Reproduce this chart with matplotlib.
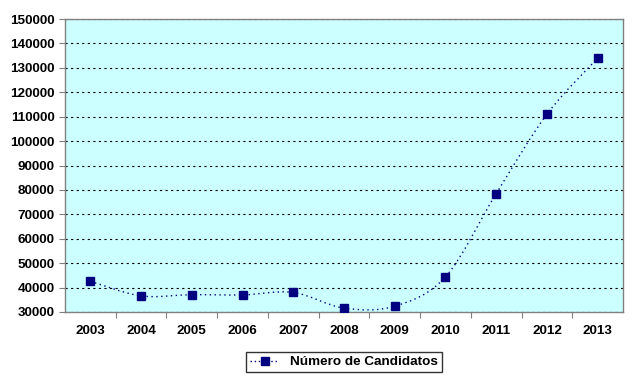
import matplotlib
matplotlib.use('Agg')
import matplotlib.pyplot as plt
from matplotlib.path import Path
from matplotlib.patches import PathPatch
from matplotlib.lines import Line2D

plt.rcParams['font.family'] = ['Liberation Sans', 'DejaVu Sans']

years = ['2003', '2004', '2005', '2006', '2007', '2008', '2009', '2010', '2011', '2012', '2013']
candidatos = [42600, 36600, 37100, 37000, 38000, 31600, 32400, 44400, 78500, 111000, 134000]
series_label = 'Número de Candidatos'

navy = '#000080'

fig = plt.figure(figsize=(6.4, 3.84), dpi=100)
ax = fig.add_axes([0.1016, 0.1875, 0.8719, 0.763])
ax.set_facecolor('#CCFFFF')

xs = list(range(len(years)))

# smoothed line (Catmull-Rom -> cubic bezier), like Excel's smoothed line
verts = [(xs[0], candidatos[0])]
codes = [Path.MOVETO]
n = len(xs)
for i in range(n - 1):
    p0 = (xs[max(i - 1, 0)], candidatos[max(i - 1, 0)])
    p1 = (xs[i], candidatos[i])
    p2 = (xs[i + 1], candidatos[i + 1])
    p3 = (xs[min(i + 2, n - 1)], candidatos[min(i + 2, n - 1)])
    c1 = (p1[0] + (p2[0] - p0[0]) / 6, p1[1] + (p2[1] - p0[1]) / 6)
    c2 = (p2[0] - (p3[0] - p1[0]) / 6, p2[1] - (p3[1] - p1[1]) / 6)
    verts += [c1, c2, p2]
    codes += [Path.CURVE4] * 3
curve = PathPatch(Path(verts, codes), facecolor='none', edgecolor=navy,
                  linestyle=(0, (1, 2.5)), linewidth=1.0, zorder=3)
ax.add_patch(curve)
ax.plot(xs, candidatos, linestyle='none', marker='s', markersize=6,
        color=navy, zorder=4)

ax.set_xlim(-0.5, len(years) - 0.5)
ax.set_ylim(30000, 150000)
ax.set_yticks(range(30000, 150001, 10000))
ax.yaxis.grid(True, color='black', linestyle=(0, (2, 3)), linewidth=0.8)
ax.set_axisbelow(True)

ax.set_xticks([x + 0.5 for x in xs[:-1]])
ax.set_xticklabels([])
ax.set_xticks(xs, minor=True)
ax.set_xticklabels(years, minor=True)
ax.tick_params(axis='x', which='minor', length=0, pad=9)
ax.tick_params(axis='x', which='major', length=4, color='#808080')
ax.tick_params(axis='y', length=4, color='#808080')
for lab in ax.get_xticklabels(minor=True) + ax.get_yticklabels():
    lab.set_fontweight('bold')
    lab.set_fontsize(9.7)

for s in ax.spines.values():
    s.set_color('#808080')
    s.set_linewidth(1.0)

handle = Line2D([], [], color=navy, linestyle=(0, (1, 2)), linewidth=1.0,
                marker='s', markersize=6)
leg = fig.legend([handle], [series_label], loc='center', bbox_to_anchor=(0.5375, 0.057),
                 frameon=True, fancybox=False, edgecolor='black',
                 prop={'weight': 'bold', 'size': 9.7}, handlelength=2.2,
                 borderpad=0.3)
leg.get_frame().set_linewidth(1.0)

fig.savefig('out.png', dpi=100)
